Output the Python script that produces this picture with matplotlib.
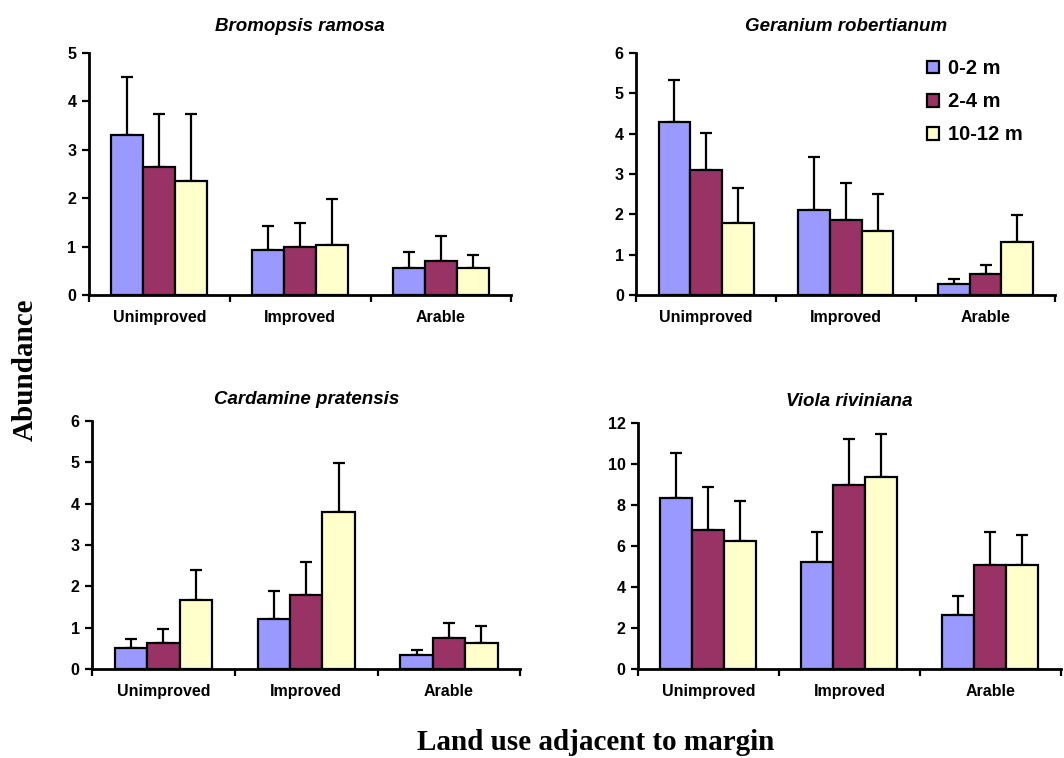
import numpy as np
import matplotlib
matplotlib.use("Agg")
import matplotlib.pyplot as plt
from matplotlib.ticker import FixedLocator, NullFormatter

# land use groups and margin distance classes
categories = ["Unimproved", "Improved", "Arable"]
series = ["0-2 m", "2-4 m", "10-12 m"]
colors = ["#9999FF", "#993366", "#FFFFCC"]

# mean abundance, rows = distance class, cols = land use
bromopsis_mean = [[3.30, 0.93, 0.55], [2.64, 0.98, 0.71], [2.36, 1.04, 0.55]]
bromopsis_top = [[4.51, 1.43, 0.88], [3.74, 1.48, 1.21], [3.74, 1.98, 0.82]]

geranium_mean = [[4.28, 2.11, 0.26], [3.10, 1.85, 0.53], [1.78, 1.59, 1.32]]
geranium_top = [[5.34, 3.43, 0.40], [4.02, 2.77, 0.73], [2.64, 2.51, 1.98]]

cardamine_mean = [[0.52, 1.22, 0.33], [0.64, 1.80, 0.76], [1.68, 3.80, 0.64]]
cardamine_top = [[0.72, 1.88, 0.47], [0.98, 2.60, 1.11], [2.40, 4.98, 1.05]]

viola_mean = [[8.33, 5.20, 2.62], [6.76, 8.98, 5.06], [6.23, 9.37, 5.06]]
viola_top = [[10.54, 6.67, 3.54], [8.89, 11.22, 6.67], [8.21, 11.46, 6.52]]

panels = [
    ("Bromopsis ramosa", bromopsis_mean, bromopsis_top, 5, 1,
     [0.0836, 0.611, 0.397, 0.319], 16),
    ("Geranium robertianum", geranium_mean, geranium_top, 6, 1,
     [0.598, 0.611, 0.394, 0.319], 16),
    ("Cardamine pratensis", cardamine_mean, cardamine_top, 6, 1,
     [0.0865, 0.1174, 0.4025, 0.327], 12),
    ("Viola riviniana", viola_mean, viola_top, 12, 2,
     [0.5996, 0.1174, 0.3974, 0.3246], 12),
]

plt.rcParams['font.family'] = ['Liberation Sans', 'DejaVu Sans']

fig = plt.figure(figsize=(10.64, 7.58), dpi=100)

x = np.arange(len(categories))
w = 0.227
handles = []
for title, mean, top, ymax, step, rect, tpad in panels:
    ax = fig.add_axes(rect)
    for i in range(len(series)):
        m = np.array(mean[i])
        up = np.array(top[i]) - m
        pos = x + (i - 1) * w
        b = ax.bar(pos, m, w, color=colors[i], edgecolor="black", linewidth=1.6,
                   zorder=3, label=series[i])
        ax.errorbar(pos, m, yerr=[np.zeros_like(m), up], fmt="none", ecolor="black",
                    elinewidth=1.6, capsize=4, capthick=1.6, zorder=2)
        if len(handles) < 3:
            handles.append(b)
    ax.set_xlim(-0.5, 2.5)
    ax.set_ylim(0, ymax)
    ax.set_yticks(np.arange(0, ymax + 0.1, step))
    ax.set_xticks(x)
    ax.set_xticklabels(categories)
    ax.xaxis.set_minor_locator(FixedLocator([-0.5, 0.5, 1.5, 2.5]))
    ax.xaxis.set_minor_formatter(NullFormatter())
    ax.tick_params(axis="x", which="major", length=0, pad=11, labelsize=11.5)
    ax.tick_params(axis="x", which="minor", length=5, width=1.6, direction="out")
    ax.tick_params(axis="y", length=5, width=1.6, labelsize=11.5, pad=4)
    for lab in ax.get_xticklabels() + ax.get_yticklabels():
        lab.set_fontweight("bold")
    for s in ["top", "right"]:
        ax.spines[s].set_visible(False)
    for s in ["left", "bottom"]:
        ax.spines[s].set_linewidth(2)
    ax.patch.set_alpha(0)
    ax.set_title(title, fontsize=13.5, fontweight="bold", style="italic", pad=tpad)

fig.legend(handles, series, loc="upper left", bbox_to_anchor=(0.871, 0.922),
           frameon=False, prop={"weight": "bold", "size": 14.5},
           borderpad=0, borderaxespad=0,
           handlelength=0.6, handleheight=0.6, handletextpad=0.45, labelspacing=0.7)

fig.text(0.024, 0.512, "Abundance", rotation=90, ha="center", va="center",
         fontsize=21, fontweight="bold", family="Liberation Serif")
fig.text(0.56, 0.02, "Land use adjacent to margin", ha="center", va="center",
         fontsize=21, fontweight="bold", family="Liberation Serif")

fig.savefig("out.png", dpi=100)
